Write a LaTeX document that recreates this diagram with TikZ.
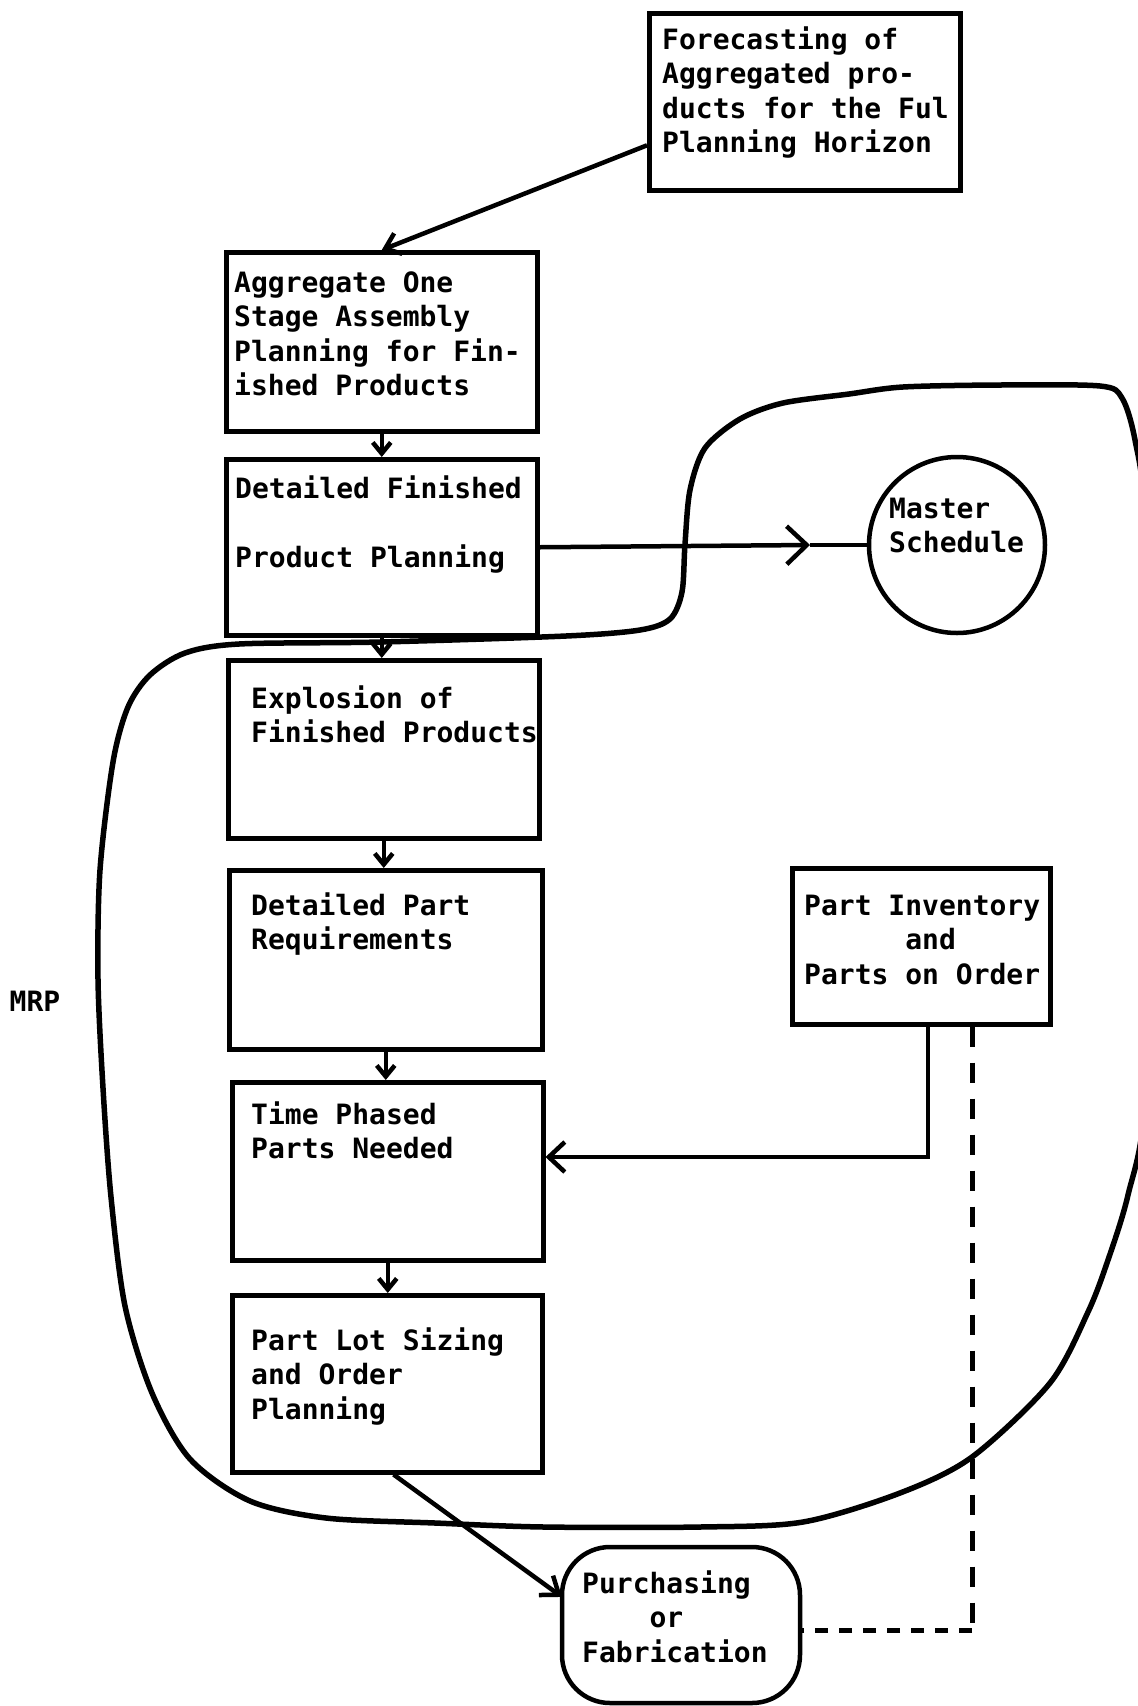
\documentclass[tikz,border=0pt]{standalone}
\usepackage{fontspec}
\newfontfamily\mono{DejaVu Sans Mono}
\usetikzlibrary{arrows.meta,calc}
\newcommand\txtfont{\mono\bfseries\fontsize{28}{34.5}\selectfont}
\newcommand\mystrut{\rule{0pt}{24pt}}
\begin{document}
\begin{tikzpicture}[x=1pt,y=1pt,
  box/.style={draw, line width=4.5pt, rectangle, inner sep=0pt, anchor=north west},
  txt/.style={font=\txtfont, align=left, inner sep=0pt, anchor=north west},
  conn/.style={line width=4.5pt},
  vtip/.style={-{Straight Barb[length=11pt,width=18pt]}},
  mrp/.style={line width=5.5pt},
  vdash/.style={line width=5pt, dash pattern=on 20pt off 16pt},
  hdash/.style={line width=5pt, dash pattern=on 13pt off 11pt}]
\useasboundingbox (0,0) rectangle (1138,-1706);
\clip (0,0) rectangle (1138,-1706);

% boxes
\node[box, minimum width=311, minimum height=177] (fc) at (647,-11) {};
\node[box, minimum width=311, minimum height=179] (agg) at (224,-250) {};
\node[box, minimum width=311, minimum height=176] (dfp) at (224,-457) {};
\node[box, minimum width=311, minimum height=178] (exp) at (226,-658) {};
\node[box, minimum width=313, minimum height=179] (dpr) at (227,-868) {};
\node[box, minimum width=311, minimum height=178] (tp) at (230,-1080) {};
\node[box, minimum width=310, minimum height=177] (pl) at (230,-1293) {};
\node[box, minimum width=258, minimum height=156] (pi) at (790,-866) {};
\node[box, minimum width=238, minimum height=156, rounded corners=48pt, outer sep=0pt] (pf) at (562,-1547) {};
\node[draw, circle, line width=4.5pt, minimum size=176, inner sep=0pt] (ms) at (957,-545) {};

% texts
\node[txt] (fct) at (662,-25) {\mystrut Forecasting of\\Aggregated pro-\\ducts for the Ful\\Planning Horizon};
\node[txt] (aggt) at (234,-268) {\mystrut Aggregate One\\Stage Assembly\\Planning for Fin-\\ished Products};
\node[txt] (dfpt) at (235,-474) {\mystrut Detailed Finished\\[34.5pt]Product Planning};
\node[txt] (expt) at (251,-684) {\mystrut Explosion of\\Finished Products};
\node[txt] (dprt) at (251,-891) {\mystrut Detailed Part\\Requirements};
\node[txt] (tpt) at (251,-1100) {\mystrut Time Phased\\Parts Needed};
\node[txt] (plt) at (251,-1326) {\mystrut Part Lot Sizing\\and Order\\Planning};
\node[txt] (pit) at (804,-891) {\mystrut Part Inventory\\\phantom{Part I}and\\Parts on Order};
\node[txt] (mst) at (889,-494) {\mystrut Master\\Schedule};
\node[txt] (pft) at (582,-1569) {\mystrut Purchasing\\\phantom{Purc}or\\Fabrication};
\node[font=\txtfont, inner sep=0pt, anchor=base] (mrpt) at (35,-1011) {MRP};

% connectors
\draw[conn, -{Straight Barb[length=14pt,width=22pt]}] ($(fc.north west)!0.74!(fc.south west)$) -- (agg.north);
\draw[conn, vtip] (agg.south) -- (agg.south |- dfp.north);
\draw[conn, vtip] (dfp.south) -- (dfp.south |- exp.north);
\draw[conn, vtip] (exp.south) -- (exp.south |- dpr.north);
\draw[conn, vtip] (dpr.south) -- (dpr.south |- tp.north);
\draw[conn, vtip] (tp.south) -- (tp.south |- pl.north);

\coordinate (msmid) at (810,-545);
\draw[conn, -{Straight Barb[length=20pt,width=38pt]}] (dfp.east) -- (msmid);
\draw[conn] (msmid) -- (ms.west);

\coordinate (pic) at (928,-1157);
\draw[conn, -{Straight Barb[length=16pt,width=30pt]}] (pi.south -| pic) -- (pic) -- (pic -| tp.east);

\draw[conn, -{Straight Barb[length=16pt,width=24pt]}] ($(pl.south west)!0.52!(pl.south east)$) -- ($(pf.north west)!0.32!(pf.south west)$);

\coordinate (dc) at (972,-1630);
\draw[vdash] (pi.south -| dc) -- (dc);
\draw[hdash] (dc) -- (dc -| pf.east);

% MRP boundary
\draw[mrp] plot[smooth cycle, tension=0.5] coordinates {
(185,-653) (239,-644) (381,-642) (566,-636) (640,-630) (670,-619) (682,-592)
(685,-544) (690,-490) (705,-448) (740,-419) (783,-403) (849,-394) (903,-387)
(1000,-385) (1100,-386) (1122,-398) (1135,-440) (1145,-520) (1152,-800)
(1145,-1100) (1128,-1195) (1108,-1260) (1088,-1312) (1050,-1383) (972,-1457)
(900,-1493) (803,-1522) (700,-1527) (544,-1527) (435,-1523) (326,-1518)
(250,-1501) (190,-1459) (152,-1393) (125,-1306) (111,-1197) (103,-1088)
(98,-979) (100,-870) (113,-762) (128,-707) (150,-675)};
\end{tikzpicture}
\end{document}
